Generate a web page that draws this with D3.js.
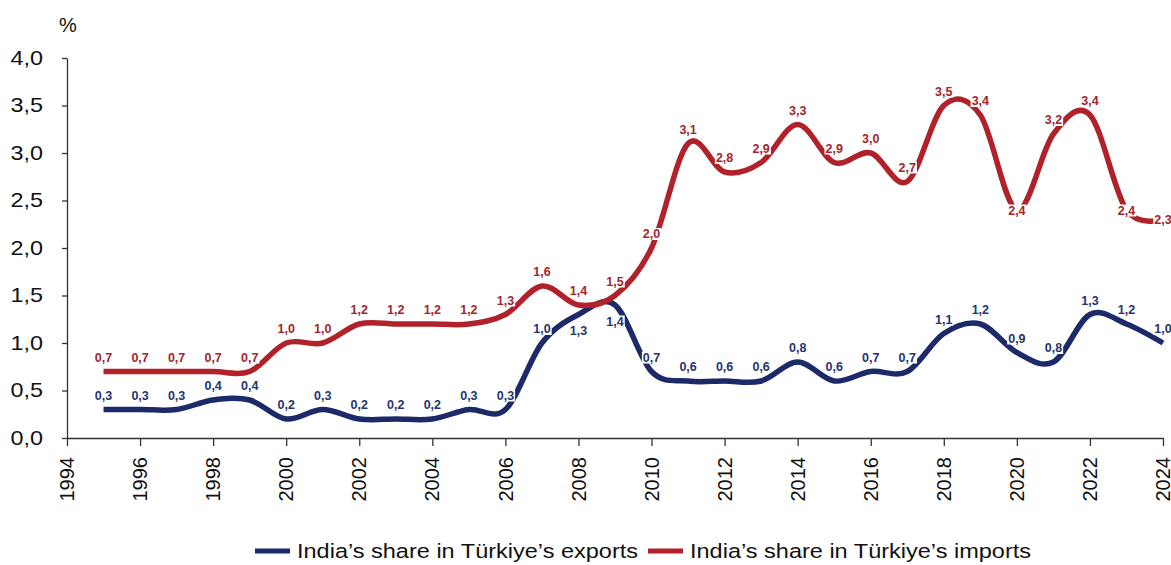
<!DOCTYPE html>
<html>
<head>
<meta charset="utf-8">
<script src="https://cdn.jsdelivr.net/npm/d3@7/dist/d3.min.js"></script>
<style>
  html, body { margin: 0; padding: 0; background: #fff; }
  svg { display: block; font-family: Arial, "Liberation Sans", Helvetica, sans-serif; }
</style>
</head>
<body>
<svg id="chart" width="1171" height="565"></svg>
<script>
const years = [1995,1996,1997,1998,1999,2000,2001,2002,2003,2004,2005,2006,2007,2008,2009,2010,2011,2012,2013,2014,2015,2016,2017,2018,2019,2020,2021,2022,2023,2024];
const exportsShare = [0.3,0.3,0.3,0.4,0.4,0.2,0.3,0.2,0.2,0.2,0.3,0.3,1.0,1.3,1.4,0.7,0.6,0.6,0.6,0.8,0.6,0.7,0.7,1.1,1.2,0.9,0.8,1.3,1.2,1.0];
const importsShare = [0.7,0.7,0.7,0.7,0.7,1.0,1.0,1.2,1.2,1.2,1.2,1.3,1.6,1.4,1.5,2.0,3.1,2.8,2.9,3.3,2.9,3.0,2.7,3.5,3.4,2.4,3.2,3.4,2.4,2.3];
const xTickYears = [1994,1996,1998,2000,2002,2004,2006,2008,2010,2012,2014,2016,2018,2020,2022,2024];
const yTicks = [0,0.5,1.0,1.5,2.0,2.5,3.0,3.5,4.0];
const seriesNames = ["India\u2019s share in T\u00fcrkiye\u2019s exports", "India\u2019s share in T\u00fcrkiye\u2019s imports"];
const unitLabel = "%";

const colors = { exp: "#1c2a69", imp: "#b0212a", expLabel: "#26346f", impLabel: "#a3252c", axis: "#333" };

const svg = d3.select("#chart");
const x = d3.scaleLinear().domain([1994, 2024]).range([67, 1163]);
const y = d3.scaleLinear().domain([0, 4]).range([438, 58]);

const loc = d3.formatLocale({decimal: ",", thousands: ".", grouping: [3], currency: ["", ""]});
const f1 = loc.format(".1f");

// Axes
const yAxis = d3.axisLeft(y).tickValues(yTicks).tickFormat(f1).tickSize(5).tickSizeOuter(0);
const gy = svg.append("g").attr("transform", "translate(67,0)").call(yAxis);
gy.select(".domain").attr("stroke", colors.axis).attr("stroke-width", 1.3);
gy.selectAll(".tick line").attr("stroke", colors.axis).attr("stroke-width", 1.3);
gy.selectAll(".tick text")
  .attr("font-size", 20).attr("fill", "#111")
  .attr("x", -24 / 1.17)
  .attr("transform", "scale(1.17,1)")
  .attr("font-family", "Arial, 'Liberation Sans', sans-serif");

const xAxis = d3.axisBottom(x).tickValues(xTickYears).tickFormat(d => String(d)).tickSize(8).tickSizeOuter(0);
const gx = svg.append("g").attr("transform", "translate(0,438)").call(xAxis);
gx.select(".domain").attr("stroke", colors.axis).attr("stroke-width", 1.3);
gx.selectAll(".tick line").attr("stroke", colors.axis).attr("stroke-width", 1.3);
gx.selectAll(".tick text")
  .attr("font-size", 20).attr("fill", "#111")
  .attr("transform", "rotate(-90)")
  .attr("y", 0).attr("x", -19).attr("dy", "0.33em")
  .attr("text-anchor", "end")
  .attr("font-family", "Arial, 'Liberation Sans', sans-serif");

svg.append("text").attr("x", 68).attr("y", 32).attr("text-anchor", "middle")
  .attr("font-size", 20).attr("fill", "#111").text(unitLabel);

// Lines
const line = d3.line().x((d, i) => x(years[i])).y(d => y(d)).curve(d3.curveCardinal.tension(0));
svg.append("path").datum(exportsShare).attr("d", line)
  .attr("fill", "none").attr("stroke", colors.exp).attr("stroke-width", 5.5).attr("stroke-linejoin", "round");
svg.append("path").datum(importsShare).attr("d", line)
  .attr("fill", "none").attr("stroke", colors.imp).attr("stroke-width", 5.5).attr("stroke-linejoin", "round");

// Data labels
function drawLabels(values, color, placeFn) {
  const g = svg.append("g");
  values.forEach((v, i) => {
    const yr = years[i];
    const place = placeFn(yr);
    let cy = y(v);
    if (place === "above") cy -= 14.5;
    else if (place === "below") cy += 16;
    const lg = g.append("g").attr("transform", `translate(${x(yr)},${cy})`);
    const rect = lg.append("rect").attr("fill", "#fff");
    const t = lg.append("text").attr("text-anchor", "middle").attr("dy", "0.36em")
      .attr("font-size", 12.5).attr("font-weight", "bold").attr("fill", color).text(f1(v));
    const bb = t.node().getBBox();
    rect.attr("x", bb.x - 1).attr("y", bb.y + 1).attr("width", bb.width + 2).attr("height", bb.height - 2);
  });
}
drawLabels(exportsShare, colors.expLabel, yr => (yr === 2008 || yr === 2009) ? "below" : "above");
drawLabels(importsShare, colors.impLabel, yr => (yr === 2020 || yr === 2023 || yr === 2024) ? "center" : "above");

// Legend
const legend = svg.append("g");
const legendItems = [
  { name: seriesNames[0], color: colors.exp, x0: 255 },
  { name: seriesNames[1], color: colors.imp, x0: 648 }
];
legendItems.forEach(it => {
  legend.append("line").attr("x1", it.x0).attr("x2", it.x0 + 35).attr("y1", 551).attr("y2", 551)
    .attr("stroke", it.color).attr("stroke-width", 5);
  legend.append("text").attr("x", it.x0 + 42).attr("y", 558).attr("font-size", 20.5).attr("fill", "#111")
    .attr("textLength", 341).attr("lengthAdjust", "spacingAndGlyphs").text(it.name);
});
</script>
</body>
</html>
